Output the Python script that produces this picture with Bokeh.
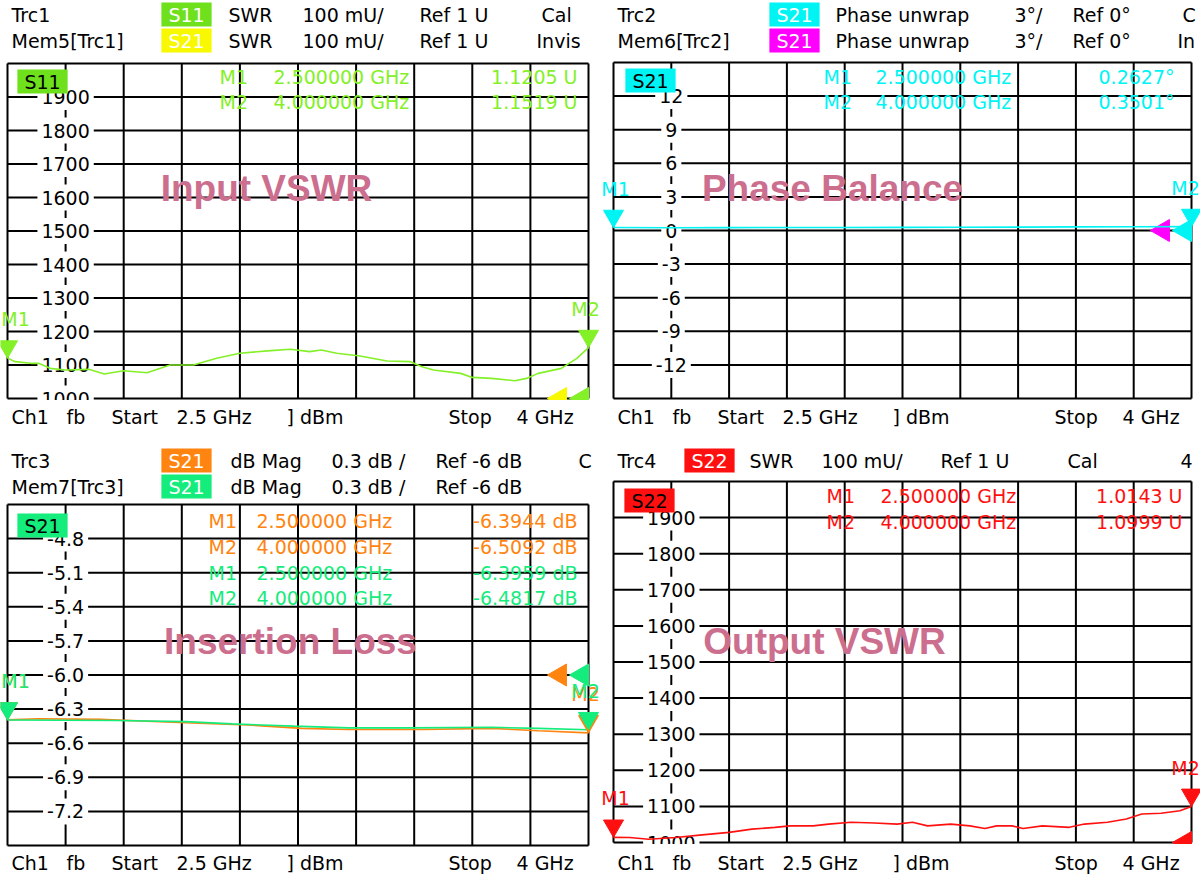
import numpy as np
from bokeh.plotting import figure
from bokeh.models import ColumnDataSource, Label
from bokeh.layouts import column, row
from bokeh.embed import file_html
from bokeh.resources import INLINE
from bokeh.core.properties import value

# ---------------------------------------------------------------- data
FREQ_START = 2.5
FREQ_STOP = 4.0
N_DIV = 10

marker_names = ["M1", "M2"]
marker_freq = [2.5, 4.0]

# Trc1 : S11 SWR (U)
s11_freq = [2.50, 2.52, 2.56, 2.58, 2.61, 2.65, 2.71, 2.75, 2.80, 2.86, 2.92,
            2.98, 3.04, 3.10, 3.18, 3.23, 3.28, 3.31, 3.35, 3.41, 3.48, 3.54,
            3.57, 3.60, 3.67, 3.70, 3.75, 3.81, 3.84, 3.87, 3.93, 3.97, 4.00]
s11_swr = [1.1205, 1.110, 1.105, 1.105, 1.090, 1.085, 1.087, 1.073, 1.083, 1.077, 1.100,
           1.100, 1.120, 1.135, 1.143, 1.147, 1.140, 1.145, 1.135, 1.127, 1.112, 1.110,
           1.095, 1.085, 1.075, 1.063, 1.060, 1.053, 1.060, 1.075, 1.090, 1.120, 1.1519]
s11_marker_swr = [1.1205, 1.1519]

# Trc2 : S21 phase unwrap (deg)
phase_freq = [2.50, 2.65, 2.80, 2.95, 3.10, 3.25, 3.40, 3.55, 3.70, 3.85, 4.00]
phase_deg = [0.2627, 0.25, 0.26, 0.27, 0.27, 0.28, 0.29, 0.30, 0.32, 0.33, 0.3501]
phase_marker_deg = [0.2627, 0.3501]

# Trc3 : S21 dB Mag, and its memory trace Mem7
il_freq = [2.50, 2.58, 2.74, 2.96, 3.12, 3.26, 3.38, 3.57, 3.75, 3.87, 4.00]
il_db = [-6.3944, -6.385, -6.390, -6.420, -6.440, -6.470, -6.480, -6.480, -6.470, -6.490, -6.5092]
il_marker_db = [-6.3944, -6.5092]
il_mem_freq = [2.50, 2.78, 2.96, 3.08, 3.24, 3.38, 3.54, 3.75, 3.87, 4.00]
il_mem_db = [-6.3959, -6.400, -6.410, -6.430, -6.450, -6.465, -6.465, -6.460, -6.470, -6.4817]
il_mem_marker_db = [-6.3959, -6.4817]

# Trc4 : S22 SWR (U)
s22_freq = [2.500, 2.542, 2.591, 2.661, 2.730, 2.800, 2.859, 2.919, 2.958, 3.018, 3.058,
            3.117, 3.177, 3.236, 3.276, 3.315, 3.375, 3.425, 3.464, 3.494, 3.534, 3.563,
            3.613, 3.683, 3.722, 3.782, 3.831, 3.871, 3.921, 3.970, 4.000]
s22_swr = [1.0143, 1.014, 1.009, 1.014, 1.021, 1.028, 1.037, 1.042, 1.046, 1.046, 1.051,
           1.056, 1.054, 1.051, 1.056, 1.046, 1.051, 1.046, 1.039, 1.046, 1.046, 1.039,
           1.046, 1.042, 1.051, 1.056, 1.065, 1.079, 1.081, 1.088, 1.0999]
s22_marker_swr = [1.0143, 1.0999]

# reference levels
ref_swr = 1.0
ref_phase = 0.0
ref_db = -6.0

# tick labels
swr_ticks = [1.9, 1.8, 1.7, 1.6, 1.5, 1.4, 1.3, 1.2, 1.1, 1.0]
swr_tick_labels = ["1900", "1800", "1700", "1600", "1500", "1400", "1300", "1200", "1100", "1000"]
phase_ticks = [12, 9, 6, 3, 0, -3, -6, -9, -12]
phase_tick_labels = ["12", "9", "6", "3", "0", "-3", "-6", "-9", "-12"]
il_ticks = [-4.8, -5.1, -5.4, -5.7, -6.0, -6.3, -6.6, -6.9, -7.2]
il_tick_labels = ["-4.8", "-5.1", "-5.4", "-5.7", "-6.0", "-6.3", "-6.6", "-6.9", "-7.2"]

# ---------------------------------------------------------------- style
GREEN = "#84f028"
GREEN_BADGE = "#6fe01c"
YELLOW = "#f8f800"
CYAN = "#00f4f4"
MAGENTA = "#ff00ff"
ORANGE = "#ff8410"
MEMGREEN = "#14ec7c"
RED = "#ff1010"
PINK = "#cc6f8f"

FONT = "DejaVu Sans"
TITLE_FONT = "Liberation Sans"
FS = 19

FIG_W, FIG_H = 600, 438


class Panel:
    """One VNA diagram; L,R,T,B = grid box in panel pixels."""

    def __init__(self, L, R, T, B, y0, y1):
        self.L, self.R, self.T, self.B = L, R, T, B
        self.y0, self.y1 = y0, y1
        xa, _ = self.at(0, 0)
        xb, _ = self.at(FIG_W, 0)
        _, yb = self.at(0, 0)
        _, ya = self.at(0, FIG_H)
        self.xa, self.xb, self.ya, self.yb = xa, xb, ya, yb
        p = figure(width=FIG_W, height=FIG_H, x_range=(xa, xb), y_range=(ya, yb),
                   output_backend="svg", toolbar_location=None, title=None,
                   x_axis_location=None, y_axis_location=None,
                   min_border=0, min_border_left=0, min_border_right=0,
                   min_border_top=0, min_border_bottom=0)
        p.background_fill_color = "white"
        p.border_fill_color = "white"
        p.outline_line_color = None
        p.xgrid.visible = False
        p.ygrid.visible = False
        self.p = p
        # division grid drawn through the data scales
        xt = [FREQ_START + i * (FREQ_STOP - FREQ_START) / N_DIV for i in range(N_DIV + 1)]
        yt = [y0 + i * (y1 - y0) / N_DIV for i in range(N_DIV + 1)]
        p.segment(x0=xt, y0=[y0] * len(xt), x1=xt, y1=[y1] * len(xt),
                  line_color="black", line_width=2)
        p.segment(x0=[FREQ_START] * len(yt), y0=yt, x1=[FREQ_STOP] * len(yt), y1=yt,
                  line_color="black", line_width=2)

    def at(self, X, Y):
        x = FREQ_START + (X - self.L) / (self.R - self.L) * (FREQ_STOP - FREQ_START)
        y = self.y1 - (Y - self.T) / (self.B - self.T) * (self.y1 - self.y0)
        return x, y

    def dy(self, px):
        return px * (self.y1 - self.y0) / (self.B - self.T)

    def dx(self, px):
        return px * (FREQ_STOP - FREQ_START) / (self.R - self.L)

    def label(self, X, Y, text, color="black", align="left", size=FS, font=FONT,
              style="normal", bg=None):
        x, y = self.at(X, Y)
        kw = {}
        if bg is not None:
            kw = dict(background_fill_color=bg, padding=dict(left=7, right=7, top=1, bottom=1))
        self.p.add_layout(Label(x=x, y=y, x_units="data", y_units="data", text=text,
                                text_color=color, text_align=align, text_baseline="middle",
                                text_font=font, text_font_size=f"{size}px",
                                text_font_style=style, **kw))

    def ticks(self, vals, labels):
        tx = FREQ_START + (FREQ_STOP - FREQ_START) / N_DIV
        src = ColumnDataSource(dict(x=[tx] * len(vals), y=vals, t=labels))
        self.p.text(x="x", y="y", text="t", source=src, text_align="center",
                    text_baseline="middle", text_font=value(FONT), text_font_size=f"{FS}px",
                    text_color="black", background_fill_color="white",
                    padding=dict(left=4, right=4, top=6, bottom=6))

    def trace(self, xs, ys, color):
        self.p.line(xs, ys, line_color=color, line_width=1.6)

    def markers(self, vals, color, size=20):
        off = self.dy(0.577 * size)
        src = ColumnDataSource(dict(x=marker_freq, y=[v + off for v in vals]))
        self.p.scatter("x", "y", source=src, marker="inverted_triangle", size=size,
                       fill_color=color, line_color=color)
        loff = self.dy(0.577 * size + 0.866 * size + 10)
        # keep the marker names inside the panel
        xoff = [max(0, 15 - self.L), min(0, FIG_W - 15 - self.R)]
        src2 = ColumnDataSource(dict(x=marker_freq, y=[v + loff for v in vals],
                                     t=marker_names, xo=xoff))
        self.p.text(x="x", y="y", text="t", source=src2, text_align="center",
                    x_offset="xo", text_baseline="middle", text_font=value(FONT),
                    text_font_size=f"{FS}px", text_color=color)

    def ref_markers(self, ref, colors, size=22):
        h = 0.866 * size
        xs = [FREQ_STOP - self.dx(h / 3 + i * (h + 3)) for i in range(len(colors))]
        src = ColumnDataSource(dict(x=xs, y=[ref] * len(colors), c=colors))
        self.p.scatter("x", "y", source=src, marker="triangle", angle=np.pi / 2, size=size,
                       fill_color="c", line_color="c")

    def bottom_mask(self):
        # the diagram area ends at the bottom grid line: hide what hangs below it
        self.p.quad(left=[self.xa], right=[self.xb], bottom=[self.ya],
                    top=[self.y0 - self.dy(1.5)], fill_color="white", line_color=None)

    def footer(self, Y, dxo=0):
        for X, t in [(11, "Ch1"), (66, "fb"), (111, "Start"), (176, "2.5 GHz"),
                     (286, "] dBm"), (448, "Stop"), (516, "4 GHz")]:
            self.label(X + dxo, Y, t)

    def marker_table(self, Y, xs, vals, unit, color):
        for i, (f, v) in enumerate(zip(marker_freq, vals)):
            yy = Y[i]
            self.label(xs[0], yy, marker_names[i], color)
            self.label(xs[1], yy, f"{f:.6f} GHz", color)
            self.label(xs[2], yy, f"{v:.4f}{unit}", color, align="right")


# ---------------------------------------------------------------- Trc1
tl = Panel(7, 588, 63, 398, 1.0, 2.0)
tl.ticks(swr_ticks, swr_tick_labels)
tl.ref_markers(ref_swr, [GREEN, YELLOW])
tl.trace(s11_freq, s11_swr, GREEN)
tl.markers(s11_marker_swr, GREEN)
tl.bottom_mask()
tl.label(266, 188, "Input VSWR", PINK, align="center", size=37, font=TITLE_FONT, style="bold")
for X, Y, t in [(11, 14, "Trc1"), (228, 14, "SWR"), (302, 14, "100 mU/"), (419, 14, "Ref 1 U"),
                (541, 14, "Cal"), (11, 40, "Mem5[Trc1]"), (228, 40, "SWR"), (302, 40, "100 mU/"),
                (419, 40, "Ref 1 U"), (536, 40, "Invis")]:
    tl.label(X, Y, t)
tl.label(186, 14, "S11", "white", align="center", bg=GREEN_BADGE)
tl.label(186, 40, "S21", "white", align="center", bg=YELLOW)
tl.label(42, 81, "S11", "black", align="center", bg=GREEN_BADGE)
tl.marker_table([76, 101], [219, 273, 577], s11_marker_swr, " U", GREEN)
tl.footer(416)

# ---------------------------------------------------------------- Trc2
tr = Panel(13, 591, 62, 398, -15.0, 15.0)
tr.ticks(phase_ticks, phase_tick_labels)
tr.ref_markers(ref_phase, [CYAN, MAGENTA])
tr.trace(phase_freq, phase_deg, CYAN)
tr.markers(phase_marker_deg, CYAN)
tr.bottom_mask()
tr.label(232, 188, "Phase Balance", PINK, align="center", size=37, font=TITLE_FONT, style="bold")
for X, Y, t in [(17, 14, "Trc2"), (235, 14, "Phase unwrap"), (414, 14, "3°/"), (472, 14, "Ref 0°"),
                (582, 14, "C"), (17, 40, "Mem6[Trc2]"), (235, 40, "Phase unwrap"), (414, 40, "3°/"),
                (472, 40, "Ref 0°"), (577, 40, "In")]:
    tr.label(X, Y, t)
tr.label(194, 14, "S21", "white", align="center", bg=CYAN)
tr.label(194, 40, "S21", "white", align="center", bg=MAGENTA)
tr.label(50, 80, "S21", "black", align="center", bg=CYAN)
tr.marker_table([76, 101], [223, 275, 574], phase_marker_deg, "°", CYAN)
tr.footer(416, 6)

# ---------------------------------------------------------------- Trc3
bl = Panel(7, 588, 66, 407, -7.5, -4.5)
bl.ticks(il_ticks, il_tick_labels)
bl.ref_markers(ref_db, [MEMGREEN, ORANGE])
bl.trace(il_freq, il_db, ORANGE)
bl.trace(il_mem_freq, il_mem_db, MEMGREEN)
bl.markers(il_marker_db, ORANGE)
bl.markers(il_mem_marker_db, MEMGREEN)
bl.bottom_mask()
bl.label(290, 203, "Insertion Loss", PINK, align="center", size=37, font=TITLE_FONT, style="bold")
for X, Y, t in [(11, 22, "Trc3"), (230, 22, "dB Mag"), (331, 22, "0.3 dB /"), (435, 22, "Ref -6 dB"),
                (578, 22, "C"), (11, 48, "Mem7[Trc3]"), (230, 48, "dB Mag"), (331, 48, "0.3 dB /"),
                (435, 48, "Ref -6 dB")]:
    bl.label(X, Y, t)
bl.label(186, 22, "S21", "white", align="center", bg=ORANGE)
bl.label(186, 48, "S21", "white", align="center", bg=MEMGREEN)
bl.label(42, 87, "S21", "black", align="center", bg=MEMGREEN)
bl.marker_table([82, 108], [208, 256, 577], il_marker_db, " dB", ORANGE)
bl.marker_table([134, 159], [208, 256, 577], il_mem_marker_db, " dB", MEMGREEN)
bl.footer(424)

# ---------------------------------------------------------------- Trc4
br = Panel(13, 591, 43, 404, 1.0, 2.0)
br.ticks(swr_ticks, swr_tick_labels)
br.ref_markers(ref_swr, [RED])
br.trace(s22_freq, s22_swr, RED)
br.markers(s22_marker_swr, RED)
br.bottom_mask()
br.label(224, 203, "Output VSWR", PINK, align="center", size=37, font=TITLE_FONT, style="bold")
for X, Y, t in [(17, 22, "Trc4"), (149, 22, "SWR"), (221, 22, "100 mU/"), (340, 22, "Ref 1 U"),
                (467, 22, "Cal"), (580, 22, "4")]:
    br.label(X, Y, t)
br.label(109, 22, "S22", "white", align="center", bg=RED)
br.label(49, 62, "S22", "black", align="center", bg=RED)
br.marker_table([57, 83], [226, 280, 582], s22_marker_swr, " U", RED)
br.footer(424, 6)

layout = column(row(tl.p, tr.p), row(bl.p, br.p))
open("out.html", "w").write(file_html(layout, INLINE))
